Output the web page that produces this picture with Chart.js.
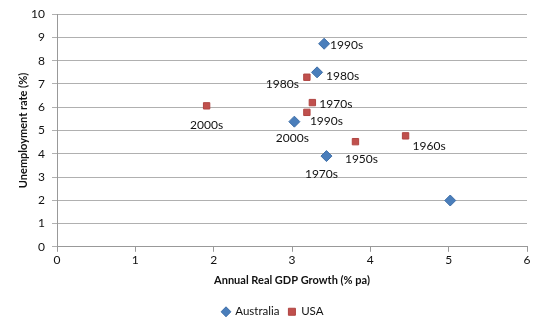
<!DOCTYPE html>
<html>
<head>
<meta charset="utf-8">
<script src="https://cdn.jsdelivr.net/npm/chart.js@4/dist/chart.umd.min.js"></script>
<style>
  html, body { margin: 0; padding: 0; background: #fff; }
  #wrap { width: 543px; height: 330px; }
</style>
</head>
<body>
<div id="wrap"><canvas id="growthChart" width="543" height="330"></canvas></div>
<script>
// Average GDP growth vs unemployment by decade
const ausGrowth = [3.41, 3.32, 3.03, 3.44, 5.02];
const ausUnemp = [8.73, 7.50, 5.38, 3.90, 1.99];
const ausDecades = ['1990s', '1980s', '2000s', '1970s', ''];

const usaGrowth = [1.91, 3.19, 3.26, 3.19, 3.81, 4.45];
const usaUnemp = [6.06, 7.29, 6.20, 5.78, 4.52, 4.77];
const usaDecades = ['2000s', '1980s', '1970s', '1990s', '1950s', '1960s'];

const seriesNames = ['Australia', 'USA'];

// where each decade label sits relative to its marker: [dx, dy, align]
const ausLabelPlace = [[6, 1, 'left'], [9, 4, 'left'], [-2, 16, 'center'], [-5, 18, 'center'], [0, 0, 'left']];
const usaLabelPlace = [[0, 19, 'center'], [-8, 7, 'right'], [7, 2, 'left'], [3, 9, 'left'], [6, 17, 'center'], [7, 10, 'left']];

const FONT = 'Lato, "Open Sans", sans-serif';

function toPoints(xs, ys) {
    return xs.map((x, i) => ({ x: x, y: ys[i] }));
}

// draws the decade names next to each marker
const decadeLabels = {
    id: 'decadeLabels',
    afterDatasetsDraw(chart) {
        const ctx = chart.ctx;
        ctx.save();
        ctx.font = '12px ' + FONT;
        ctx.fillStyle = '#111';
        ctx.textBaseline = 'middle';
        chart.data.datasets.forEach((ds, di) => {
            const meta = chart.getDatasetMeta(di);
            meta.data.forEach((pt, i) => {
                const text = ds.decades[i];
                if (!text) return;
                const place = ds.labelPlace[i];
                ctx.textAlign = place[2];
                ctx.fillText(text, pt.x + place[0], pt.y + place[1]);
            });
        });
        ctx.restore();
    }
};

const ctx = document.getElementById('growthChart');

new Chart(ctx, {
    type: 'scatter',
    data: {
        datasets: [{
            label: seriesNames[0],
            data: toPoints(ausGrowth, ausUnemp),
            decades: ausDecades,
            labelPlace: ausLabelPlace,
            pointStyle: 'rectRot',
            pointRadius: 5.5,
            pointHoverRadius: 5.5,
            backgroundColor: '#4A7EBB',
            borderColor: '#3F6FA8',
            borderWidth: 1
        }, {
            label: seriesNames[1],
            data: toPoints(usaGrowth, usaUnemp),
            decades: usaDecades,
            labelPlace: usaLabelPlace,
            pointStyle: 'rect',
            pointRadius: 4.5,
            pointHoverRadius: 4.5,
            backgroundColor: '#C0504D',
            borderColor: '#B04542',
            borderWidth: 1
        }]
    },
    options: {
        responsive: false,
        animation: false,
        layout: {
            padding: { left: 19, right: 16, top: 13, bottom: 2.5 }
        },
        plugins: {
            legend: {
                position: 'bottom',
                labels: {
                    usePointStyle: true,
                    boxWidth: 7,
                    boxHeight: 7,
                    padding: 9,
                    color: '#111',
                    font: { family: FONT, size: 11.5 }
                }
            },
            tooltip: { enabled: false }
        },
        scales: {
            x: {
                type: 'linear',
                min: 0,
                max: 6,
                ticks: {
                    stepSize: 1,
                    padding: 1,
                    color: '#111',
                    font: { family: FONT, size: 12 }
                },
                grid: {
                    drawOnChartArea: false,
                    drawTicks: true,
                    tickLength: 5,
                    color: '#999'
                },
                border: { color: '#999' },
                title: {
                    display: true,
                    text: 'Annual Real GDP Growth (% pa)',
                    color: '#111',
                    padding: { top: 0, bottom: 10 },
                    font: { family: FONT, size: 11, weight: 'bold' }
                },
                afterFit(scale) { scale.height = 50.2; }
            },
            y: {
                min: 0,
                max: 10,
                ticks: {
                    stepSize: 1,
                    padding: 7,
                    color: '#111',
                    font: { family: FONT, size: 12 }
                },
                grid: {
                    color: '#b0b0b0',
                    tickLength: 5
                },
                border: { color: '#999' },
                title: {
                    display: true,
                    text: 'Unemployment rate (%)',
                    color: '#111',
                    padding: { top: -2.5, bottom: 0 },
                    font: { family: FONT, size: 11, weight: 'bold' }
                },
                afterFit(scale) { scale.width = 38; }
            }
        }
    },
    plugins: [decadeLabels]
});
</script>
</body>
</html>
